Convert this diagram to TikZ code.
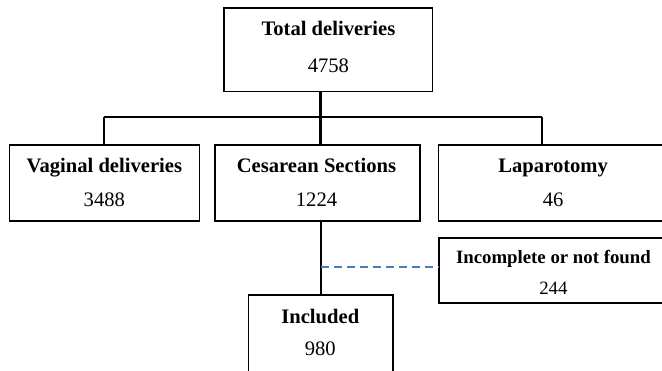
\documentclass[tikz,border=0pt]{standalone}
\usepackage{fontspec}
\setmainfont{Liberation Serif}
\definecolor{dashblue}{RGB}{74,126,187}
\begin{document}
\begin{tikzpicture}[x=1pt,y=-1pt,
  box/.style={draw=black, line width=1.6pt, inner sep=0pt, outer sep=0pt},
  conn/.style={line width=2.3pt, draw=black},
  missline/.style={line width=2pt, draw=dashblue, dash pattern=on 8pt off 5pt},
  ttl/.style={anchor=base, inner sep=0pt, font=\fontsize{20.6pt}{24pt}\selectfont\bfseries},
  num/.style={anchor=base, inner sep=0pt, font=\fontsize{20.6pt}{24pt}\selectfont},
  sttl/.style={anchor=base, inner sep=0pt, font=\fontsize{18.8pt}{22pt}\selectfont\bfseries},
  snum/.style={anchor=base, inner sep=0pt, font=\fontsize{18.8pt}{22pt}\selectfont}]
\useasboundingbox (0,0) rectangle (662,371);
\fill[white] (0,0) rectangle (662,371);

% boxes
\node[box, minimum width=208.4pt, minimum height=83.4pt] (tot) at (328.4,50) {};
\node[box, minimum width=190pt, minimum height=76pt] (vag) at (104.3,183) {};
\node[box, minimum width=205pt, minimum height=76pt] (ces) at (317.5,183) {};
\node[box, minimum width=229.7pt, minimum height=76pt] (lap) at (553.2,183) {};
\node[box, minimum width=229.3pt, minimum height=65pt] (miss) at (553.4,270.5) {};
\node[box, minimum width=144.4pt, minimum height=95pt] (inc) at (320.5,342.5) {};

% texts
\node[ttl] (totT) at (328.4,36) {Total deliveries};
\node[num] (totN) at (328.4,72.7) {4758};
\node[ttl] (vagT) at (104.3,172.7) {Vaginal deliveries};
\node[num] (vagN) at (104.3,206.7) {3488};
\node[ttl] (cesT) at (316.5,172.7) {Cesarean Sections};
\node[num] (cesN) at (316.5,206.7) {1224};
\node[ttl] (lapT) at (553.2,172.7) {Laparotomy};
\node[num] (lapN) at (553.2,206.7) {46};
\node[sttl] (missT) at (553.4,263.3) {Incomplete or not found};
\node[snum] (missN) at (553.4,295) {244};
\node[ttl] (incT) at (320.3,323.3) {Included};
\node[num] (incN) at (320.3,356) {980};

% connectors
\coordinate (busL) at (104.3,116.7);
\coordinate (busM) at (320.5,116.7);
\coordinate (busR) at (542,116.7);
\coordinate (dashL) at (321.2,267);
\draw[conn] (busM |- tot.south) -- (busM);
\draw[conn] (busL) -- (busR);
\draw[conn] (busL) -- (busL |- vag.north);
\draw[conn] (busM) -- (busM |- ces.north);
\draw[conn] (busR) -- (busR |- lap.north);
\draw[conn] (dashL |- ces.south) -- (dashL |- inc.north);
\draw[missline] (dashL) -- (dashL -| miss.west);
\end{tikzpicture}
\end{document}
